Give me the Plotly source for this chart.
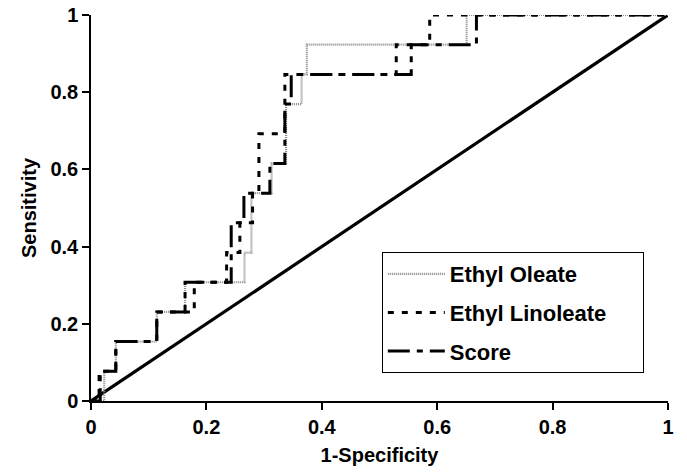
import plotly.graph_objects as go

# Sensitivity levels are multiples of 1/13
K = 13
tick_vals = [0, 0.2, 0.4, 0.6, 0.8, 1]
tick_text = ["0", "0.2", "0.4", "0.6", "0.8", "1"]

oleate_x = [0, 0.023, 0.023, 0.043, 0.043, 0.114, 0.114, 0.163, 0.163, 0.266, 0.266, 0.278, 0.278,
            0.313, 0.313, 0.338, 0.338, 0.365, 0.365, 0.374, 0.374, 0.651, 0.651, 1]
oleate_k = [0, 0, 1, 1, 2, 2, 3, 3, 4, 4, 5, 5, 7,
            7, 8, 8, 10, 10, 11, 11, 12, 12, 13, 13]

linoleate_x = [0, 0.014, 0.014, 0.043, 0.043, 0.114, 0.114, 0.179, 0.179, 0.235, 0.235, 0.258, 0.258,
               0.280, 0.280, 0.291, 0.291, 0.336, 0.336, 0.529, 0.529, 0.587, 0.587, 1]
linoleate_k = [0, 0, 1, 1, 2, 2, 3, 3, 4, 4, 5, 5, 6,
               6, 7, 7, 9, 9, 11, 11, 12, 12, 13, 13]

score_x = [0, 0.016, 0.016, 0.043, 0.043, 0.114, 0.114, 0.163, 0.163, 0.243, 0.243, 0.265, 0.265,
           0.310, 0.310, 0.336, 0.336, 0.347, 0.347, 0.555, 0.555, 0.668, 0.668, 1]
score_k = [0, 0, 1, 1, 2, 2, 3, 3, 4, 4, 6, 6, 7,
           7, 8, 8, 10, 10, 11, 11, 12, 12, 13, 13]

ref_x = [0, 1]
ref_y = [0, 1]

fig = go.Figure()
fig.add_trace(go.Scatter(x=ref_x, y=ref_y, mode="lines", showlegend=False,
                         line=dict(color="black", width=3.2)))
fig.add_trace(go.Scatter(x=oleate_x, y=[k / K for k in oleate_k], mode="lines", name="Ethyl Oleate",
                         legendgroup="a",
                         line=dict(color="#8a8a8a", width=2.2, dash="1px,1px")))
fig.add_trace(go.Scatter(x=linoleate_x, y=[k / K for k in linoleate_k], mode="lines",
                         name="Ethyl Linoleate" + "\u00a0" * 5,
                         legendgroup="b",
                         line=dict(color="black", width=3, dash="6px,8px")))
fig.add_trace(go.Scatter(x=score_x, y=[k / K for k in score_k], mode="lines", name="Score",
                         legendgroup="c",
                         line=dict(color="black", width=3, dash="22px,7px,6px,7px")))

font_family = "Liberation Sans, Arial, sans-serif"
axis_common = dict(
    range=[0, 1], tickvals=tick_vals, ticktext=tick_text,
    showgrid=False, zeroline=False, showline=True, linecolor="black", linewidth=1.5,
    ticks="outside", ticklen=7, tickwidth=1.5, tickcolor="black", automargin=False,
    tickfont=dict(family=font_family, size=20, color="black", weight="bold"),
)
fig.update_layout(
    width=687, height=472,
    margin=dict(l=91, r=19, t=15, b=71),
    paper_bgcolor="white", plot_bgcolor="white",
    xaxis=dict(**axis_common,
               title=dict(text="1-Specificity", standoff=11,
                          font=dict(family=font_family, size=20, color="black", weight="bold"))),
    yaxis=dict(**axis_common,
               title=dict(text="Sensitivity", standoff=8,
                          font=dict(family=font_family, size=20, color="black", weight="bold"))),
    legend=dict(x=0.504, y=0.386, xanchor="left", yanchor="top",
                bordercolor="black", borderwidth=1, bgcolor="white",
                font=dict(family=font_family, size=22, color="black", weight="bold"),
                tracegroupgap=7, itemwidth=57),
    showlegend=True,
)
fig.write_html("out.html", config={"displayModeBar": False},
               post_script="document.body.style.margin='0px';")
